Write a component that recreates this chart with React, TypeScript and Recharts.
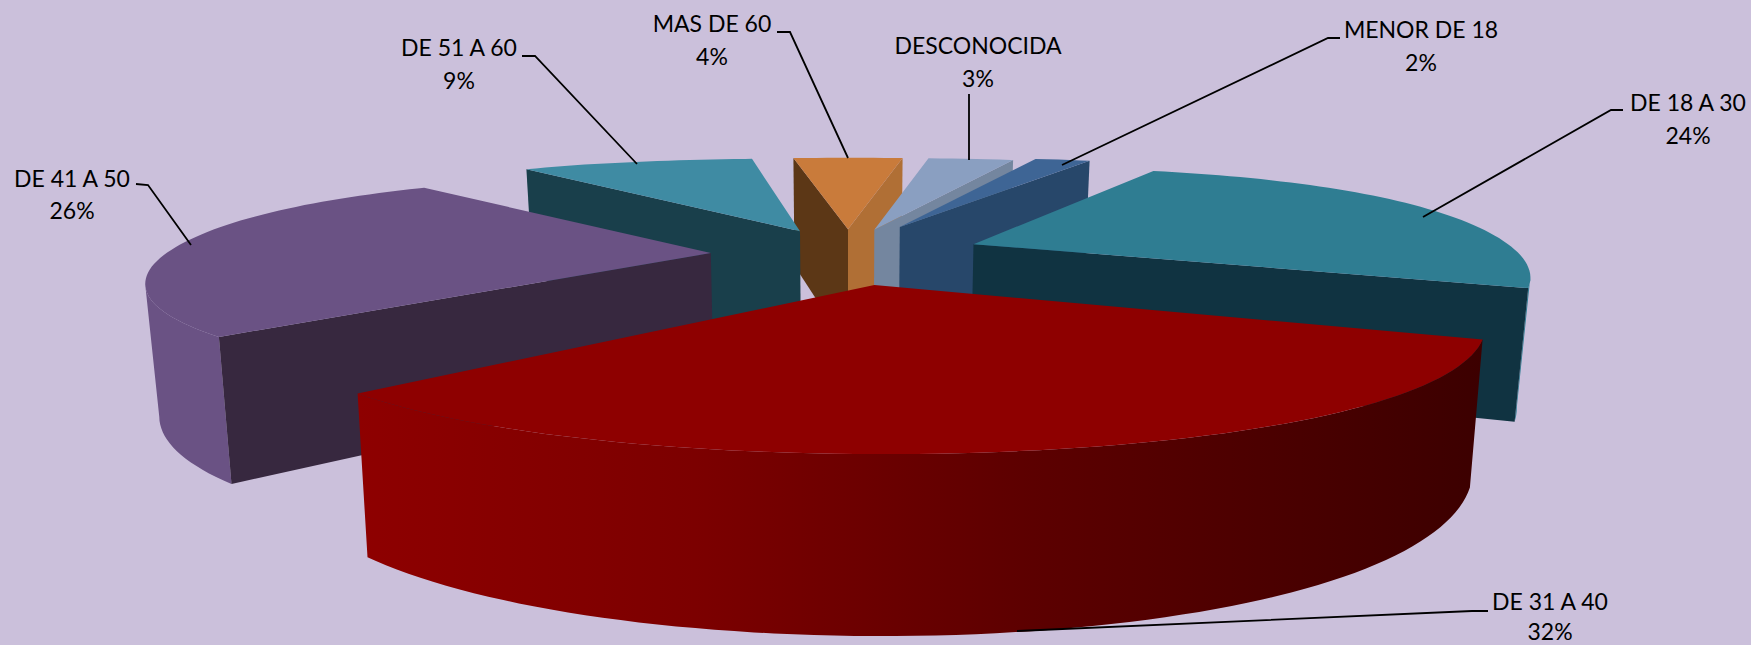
import { Pie, PieChart } from "recharts";

// share of each age group, in the order they run round the pie
const ageGroups = ["MENOR DE 18", "DE 18 A 30", "DE 31 A 40", "DE 41 A 50", "DE 51 A 60", "MAS DE 60", "DESCONOCIDA"];
const shares = [2, 24, 32, 26, 9, 4, 3];

const topColors = ["#3E6595", "#2F7D92", "#8E0000", "#6A5284", "#3F8BA3", "#C97B3B", "#8A9FC1"];
const startWallColors = ["#27476A", "#103341", "#5A0000", "#37283F", "#193F4B", "#5C3716", "#74869F"];
const endWallColors = ["#27476A", "#103341", "#5A0000", "#37283F", "#193F4B", "#B06F35", "#74869F"];
const rimColors = ["#27476A", "#2F7D92", "url(#redRim)", "#6A5284", "#3F8BA3", "#C97B3B", "#8A9FC1"];

// small per-slice corrections, the original perspective isn't quite regular
const explodes = [0.27, 0.25, 0.24, 0.25, 0.23, 0.23, 0.23];
const stretchU = [1, 0.99, 1, 0.99, 0.94, 0.95, 1];
const stretchV = [1, 0.95, 1, 0.88, 1, 1, 1];

// back slices first, the red one sits on top of everything
const drawOrder = [5, 6, 4, 0, 1, 3, 2];

const labelCenters = [1421, 1688, 1550, 72, 459, 712, 978];
const labelBaselines = [38, 111, 610, 187, 56, 32, 54];
const percentBaselines = [71, 144, 640, 219, 89, 65, 87];
const leaderLines = [
	"1340,38 1328,38 1062,165",
	"1623,110 1611,110 1423,217",
	"1488,611 1472,611 1017,631",
	"136,184 148,185 191,245",
	"522,56 535,56 637,164",
	"777,32 790,32 848,158",
	"969,94 969,160",
];

const RAD = Math.PI / 180;

const chartData = ageGroups.map((name, i) => ({ name, value: shares[i] }));

// ground plane -> screen, with a rough perspective fitted by eye
function project(cx: number, cy: number, r: number, u: number, v: number, down: number) {
	const scale = r + 135 * v + 48 * v * v;
	const depth = 125 + 30 * v + 13 * v * v;
	return {
		x: cx + u * scale * (1 - 0.02 * down),
		y: cy + 120 * v + 33.3 * v * v + down * depth,
	};
}

function Slice3D(props: any) {
	const { cx, cy, outerRadius, startAngle, endAngle, index } = props;
	const a0 = 90 - startAngle;
	const a1 = 90 - endAngle;
	const mid = ((a0 + a1) / 2) * RAD;
	const offU = explodes[index] * Math.sin(mid);
	const offV = -explodes[index] * Math.cos(mid);

	const at = (deg: number, radius: number, down: number) =>
		project(
			cx,
			cy,
			outerRadius,
			offU + radius * stretchU[index] * Math.sin(deg * RAD),
			offV - radius * stretchV[index] * Math.cos(deg * RAD),
			down,
		);
	const str = (p: { x: number; y: number }) => `${p.x.toFixed(1)},${p.y.toFixed(1)}`;

	const degs: number[] = [];
	for (let d = a0; d < a1; d += 1.5) degs.push(d);
	degs.push(a1);

	const apex = at(0, 0, 0);
	const apexLow = at(0, 0, 1);
	const arcPoints = degs.map((d) => at(d, 1, 0));
	const midArc = at((a0 + a1) / 2, 1, 0);

	// a side wall shows only if the top face lies above its top edge
	const wallShows = (deg: number) => {
		const c = at(deg, 1, 0);
		const dir = c.x >= apex.x ? 1 : -1;
		const dx = (c.x - apex.x) * dir;
		const dy = (c.y - apex.y) * dir;
		return dx * (midArc.y - apex.y) - dy * (midArc.x - apex.x) < 0;
	};
	const wall = (deg: number, fill: string) =>
		wallShows(deg) ? (
			<polygon points={[apex, at(deg, 1, 0), at(deg, 1, 1), apexLow].map(str).join(" ")} fill={fill} />
		) : null;

	// the rim only runs between the left and right extremes of the arc
	let rightEdge = -Infinity;
	let leftEdge = Infinity;
	let maxX = -Infinity;
	let minX = Infinity;
	degs.forEach((d) => {
		const x = at(d, 1, 0).x;
		if (Math.sin(d * RAD) > 0 && x > maxX) {
			maxX = x;
			rightEdge = d;
		}
		if (Math.sin(d * RAD) < 0 && x < minX) {
			minX = x;
			leftEdge = d;
		}
	});
	const frontDegs = degs.filter((d) => Math.cos(d * RAD) < 0 && d >= rightEdge && d <= leftEdge);
	const rim =
		frontDegs.length > 1
			? [...frontDegs.map((d) => at(d, 1, 0)), ...frontDegs.slice().reverse().map((d) => at(d, 1, 1))]
			: [];

	return (
		<g>
			<defs>
				<linearGradient id="redRim" x1="0" y1="0" x2="1" y2="0">
					<stop offset="0" stopColor="#8E0000" />
					<stop offset="0.3" stopColor="#7C0000" />
					<stop offset="0.6" stopColor="#5C0000" />
					<stop offset="1" stopColor="#3C0000" />
				</linearGradient>
			</defs>
			{rim.length > 0 && <polygon points={rim.map(str).join(" ")} fill={rimColors[index]} />}
			{wall(a0, startWallColors[index])}
			{wall(a1, endWallColors[index])}
			<polygon points={[apex, ...arcPoints].map(str).join(" ")} fill={topColors[index]} />
		</g>
	);
}

function SliceLabel(props: any) {
	const { index, name, value } = props;
	const x = labelCenters[index];
	return (
		<g>
			<polyline points={leaderLines[index]} fill="none" stroke="#000" strokeWidth={1.8} />
			<text x={x} y={labelBaselines[index]} textAnchor="middle" fontFamily="Lato" fontSize={23} fill="#000">
				{name}
			</text>
			<text x={x} y={percentBaselines[index]} textAnchor="middle" fontFamily="Lato" fontSize={23} fill="#000">
				{value}%
			</text>
		</g>
	);
}

export default function App() {
	return (
		<div style={{ position: "fixed", left: 0, top: 0, width: 1751, height: 645, background: "#CBC0DB", overflow: "hidden" }}>
			<PieChart width={1751} height={645} margin={{ top: 0, right: 0, bottom: 0, left: 0 }}>
				{drawOrder.map((layer, i) => (
					<Pie
						key={layer}
						data={chartData}
						dataKey="value"
						nameKey="name"
						cx={848}
						cy={255}
						outerRadius={552}
						startAngle={72}
						endAngle={-288}
						stroke="none"
						isAnimationActive={false}
						labelLine={false}
						label={i === drawOrder.length - 1 ? SliceLabel : false}
						shape={(p: any) => (p.index === layer ? <Slice3D {...p} /> : <g />)}
					/>
				))}
			</PieChart>
		</div>
	);
}
